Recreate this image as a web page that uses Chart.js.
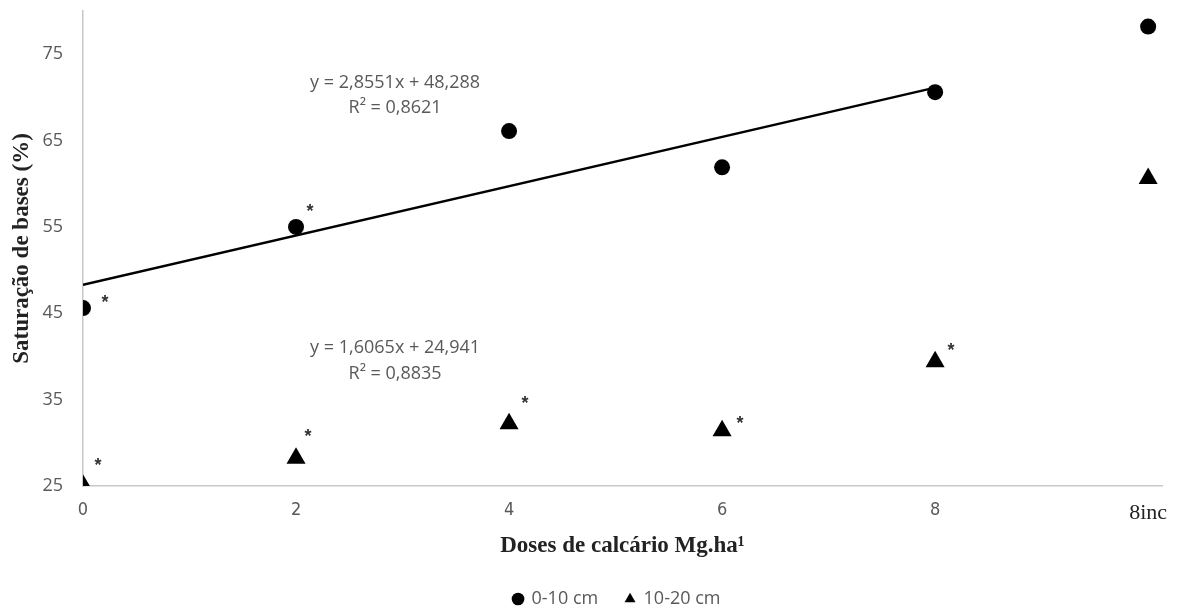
<!DOCTYPE html>
<html>
<head>
<meta charset="utf-8">
<script src="https://cdn.jsdelivr.net/npm/chart.js@4/dist/chart.umd.min.js"></script>
<style>
html,body{margin:0;padding:0;background:#fff;}
#wrap{width:1184px;height:610px;position:relative;}
</style>
</head>
<body>
<div id="wrap"><canvas id="c" width="1184" height="610"></canvas></div>
<script>
// ---- data ----
const doses = [0, 2, 4, 6, 8, 10];
const xTickLabels = ['0', '2', '4', '6', '8', '8inc'];
const yTicks = [25, 35, 45, 55, 65, 75];
const layer0_10 = [45.6, 55.0, 66.1, 61.9, 70.6, 78.2];
const layer10_20 = [25.1, 28.2, 32.2, 31.4, 39.4, 60.6];
const trendX = [0, 8];
const trendY = [48.288, 71.129];
const star0_10 = [true, true, false, false, false, false];
const star10_20 = [true, true, true, true, true, false];
const eqUpper = ['y = 2,8551x + 48,288', 'R\u00b2 = 0,8621'];
const eqLower = ['y = 1,6065x + 24,941', 'R\u00b2 = 0,8835'];
const seriesNames = ['0-10 cm', '10-20 cm'];

const pts = (xs, ys) => xs.map((x, i) => ({x: x, y: ys[i]}));

const grey = '#595959';
const axisGrey = '#c8c8c8';

// asterisk offsets (pixels) relative to the marks
const starOffsets = [
  [[22, -8], [14, -18]],
  [[15, -22], [12, -24], [16, -23], [18, -10], [16, -14]]
];

const annotPlugin = {
  id: 'annot',
  afterLayout(chart) {
    if (chart.legend) { chart.legend.left += 72; }
  },
  afterDatasetsDraw(chart) {
    const ctx = chart.ctx;
    const xs = chart.scales.x, ys = chart.scales.y;
    ctx.save();
    ctx.font = 'bold 18px "Liberation Sans"';
    ctx.fillStyle = '#333';
    ctx.textAlign = 'center';
    ctx.textBaseline = 'middle';
    const flags = [star0_10, star10_20];
    const vals = [layer0_10, layer10_20];
    flags.forEach((f, s) => {
      let k = 0;
      f.forEach((on, i) => {
        if (!on) return;
        const off = starOffsets[s][k++];
        ctx.fillText('*', xs.getPixelForValue(doses[i]) + off[0], ys.getPixelForValue(vals[s][i]) + off[1] + 3);
      });
    });
    ctx.font = '18px "Open Sans"';
    ctx.fillStyle = grey;
    const cx = xs.getPixelForValue(2.93);
    ctx.fillText(eqUpper[0], cx, ys.getPixelForValue(71.7));
    ctx.fillText(eqUpper[1], cx, ys.getPixelForValue(68.8));
    ctx.fillText(eqLower[0], cx, ys.getPixelForValue(41.0));
    ctx.fillText(eqLower[1], cx, ys.getPixelForValue(38.0));
    ctx.restore();
  }
};

new Chart(document.getElementById('c'), {
  data: {
    datasets: [
      {
        type: 'scatter', label: seriesNames[0], data: pts(doses, layer0_10),
        pointStyle: 'circle', pointRadius: 8, pointHoverRadius: 8,
        backgroundColor: '#000', borderColor: '#000', borderWidth: 0
      },
      {
        type: 'scatter', label: seriesNames[1], data: pts(doses, layer10_20),
        pointStyle: 'triangle', pointRadius: 11, pointHoverRadius: 11,
        backgroundColor: '#000', borderColor: '#000', borderWidth: 0
      },
      {
        type: 'line', label: 'trend', data: pts(trendX, trendY),
        borderColor: '#000', borderWidth: 2.5, pointRadius: 0, fill: false, tension: 0
      }
    ]
  },
  options: {
    responsive: false,
    animation: false,
    layout: { padding: { left: 0, right: 22, top: 10, bottom: -8 } },
    plugins: {
      tooltip: { enabled: false },
      legend: {
        position: 'bottom',
        labels: {
          filter: (item) => item.text !== 'trend',
          generateLabels: (chart) => {
            const items = Chart.defaults.plugins.legend.labels.generateLabels(chart);
            items.forEach((it) => { if (it.text === seriesNames[0]) it.text = it.text + '     '; });
            return items;
          },
          usePointStyle: true,
          boxWidth: 9, boxHeight: 9,
          padding: 4,
          color: grey,
          font: { family: '"Open Sans"', size: 18 }
        }
      }
    },
    scales: {
      x: {
        type: 'linear', min: 0, max: 10.13,
        afterBuildTicks: (s) => { s.ticks = doses.map(v => ({value: v})); },
        afterFit: (s) => { s.height = 100; s.paddingLeft = 0; s.paddingRight = 0; },
        grid: { display: false, drawTicks: false },
        border: { color: axisGrey, width: 1.5 },
        ticks: {
          padding: 14,
          color: (c) => (c.tick && c.tick.value === 10) ? '#222' : grey,
          font: (c) => (c.tick && c.tick.value === 10)
            ? { family: '"Liberation Serif"', size: 22 }
            : { family: '"DejaVu Sans Condensed"', size: 18 },
          callback: (v) => xTickLabels[doses.indexOf(v)]
        },
        title: {
          display: true, text: 'Doses de calc\u00e1rio Mg.ha\u00b9', color: '#222',
          font: { family: '"Liberation Serif"', size: 23, weight: 'bold' },
          padding: { top: 4, bottom: 26 }
        }
      },
      y: {
        type: 'linear', min: 25, max: 80,
        afterBuildTicks: (s) => { s.ticks = yTicks.map(v => ({value: v})); },
        afterFit: (s) => { s.width = 83; s.paddingTop = 0; s.paddingBottom = 0; },
        grid: { display: false, drawTicks: false },
        border: { color: axisGrey, width: 1.5 },
        ticks: {
          padding: 20, color: grey,
          font: { family: '"Open Sans"', size: 18 }
        },
        title: {
          display: true, text: 'Satura\u00e7\u00e3o de bases (%)', color: '#222',
          font: { family: '"Liberation Serif"', size: 23, weight: 'bold' },
          padding: { top: 8 }
        }
      }
    }
  },
  plugins: [annotPlugin]
});
</script>
</body>
</html>
